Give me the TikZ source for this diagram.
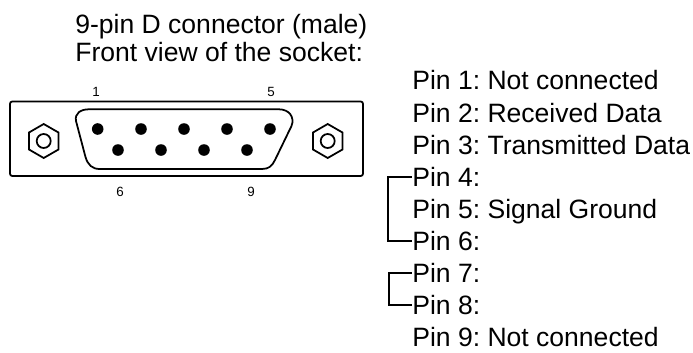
\documentclass[tikz,border=0pt]{standalone}
\usepackage{fontspec}
\setmainfont{Liberation Sans}
\usepackage{tikz}
\tikzset{
pintext/.style={anchor=west,inner sep=0pt,font=\fontsize{15.1}{16}\selectfont\frenchspacing,text height=10.5pt,text depth=0pt},
titletext/.style={anchor=base west,inner sep=0pt,font=\fontsize{15.1}{16}\selectfont\frenchspacing},
pinnumber/.style={inner sep=0pt,font=\fontsize{7.6}{8}\selectfont},
shell/.style={line width=1pt},
contact/.style={fill=black,draw=none},
bracket/.style={line width=1.1pt}
}
\begin{document}
\begin{tikzpicture}[scale=.2]
\useasboundingbox (0,0) rectangle (69.3,35.2);
\node[titletext] (title) at (7.5,31.9) {9-pin D connector (male)};
\node[titletext] (subtitle) at (7.5,29.1) {Front view of the socket:};
\draw[shell,rounded corners=1.3pt] (1,25.05) rectangle (36.3,17.6);
\draw[shell] (7.6,23.1) .. controls (7.45,23.9) and (8.1,24.27) .. (8.9,24.27) -- (27.9,24.27) .. controls (28.9,24.27) and (29.5,23.5) .. (29.15,22.6) -- (27.5,19.2) .. controls (27.2,18.6) and (26.9,18.3) .. (26.2,18.3) -- (10,18.3) .. controls (9.2,18.3) and (8.8,18.7) .. (8.55,19.5) -- cycle;
\filldraw[contact] (9.77,22.3) circle (.58);
\filldraw[contact] (14.1,22.3) circle (.58);
\filldraw[contact] (18.4,22.3) circle (.58);
\filldraw[contact] (22.7,22.3) circle (.58);
\filldraw[contact] (27,22.3) circle (.58);
\filldraw[contact] (11.8,20.2) circle (.58);
\filldraw[contact] (16.1,20.2) circle (.58);
\filldraw[contact] (20.4,20.2) circle (.58);
\filldraw[contact] (24.7,20.2) circle (.58);
\draw[shell] (4.37,22.8) -- (5.85,21.95) -- (5.85,20.25) -- (4.37,19.4) -- (2.9,20.25) -- (2.9,21.95) -- cycle;
\draw[shell] (4.37,21.1) circle (.7);
\draw[shell] (32.77,22.8) -- (34.25,21.95) -- (34.25,20.25) -- (32.77,19.4) -- (31.3,20.25) -- (31.3,21.95) -- cycle;
\draw[shell] (32.77,21.1) circle (.7);
\node[pinnumber] (num1) at (9.6,26) {1};
\node[pinnumber] (num5) at (27.1,26) {5};
\node[pinnumber] (num6) at (12,16) {6};
\node[pinnumber] (num9) at (25.1,16) {9};
\node[pintext] (pin1) at (41.2,27.2) {Pin 1: Not connected};
\node[pintext] (pin2) at (41.2,23.9) {Pin 2: Received Data};
\node[pintext] (pin3) at (41.2,20.7) {Pin 3: Transmitted Data};
\node[pintext] (pin4) at (41.2,17.5) {Pin 4:};
\node[pintext] (pin5) at (41.2,14.3) {Pin 5: Signal Ground};
\node[pintext] (pin6) at (41.2,11.1) {Pin 6:};
\node[pintext] (pin7) at (41.2,7.9) {Pin 7:};
\node[pintext] (pin8) at (41.2,4.7) {Pin 8:};
\node[pintext] (pin9) at (41.2,1.5) {Pin 9: Not connected};
\draw[bracket] (pin4.west) -- ++(-2.4,0) |- (pin6.west);
\draw[bracket] (pin7.west) -- ++(-2.3,0) |- (pin8.west);
\end{tikzpicture}
\end{document}
